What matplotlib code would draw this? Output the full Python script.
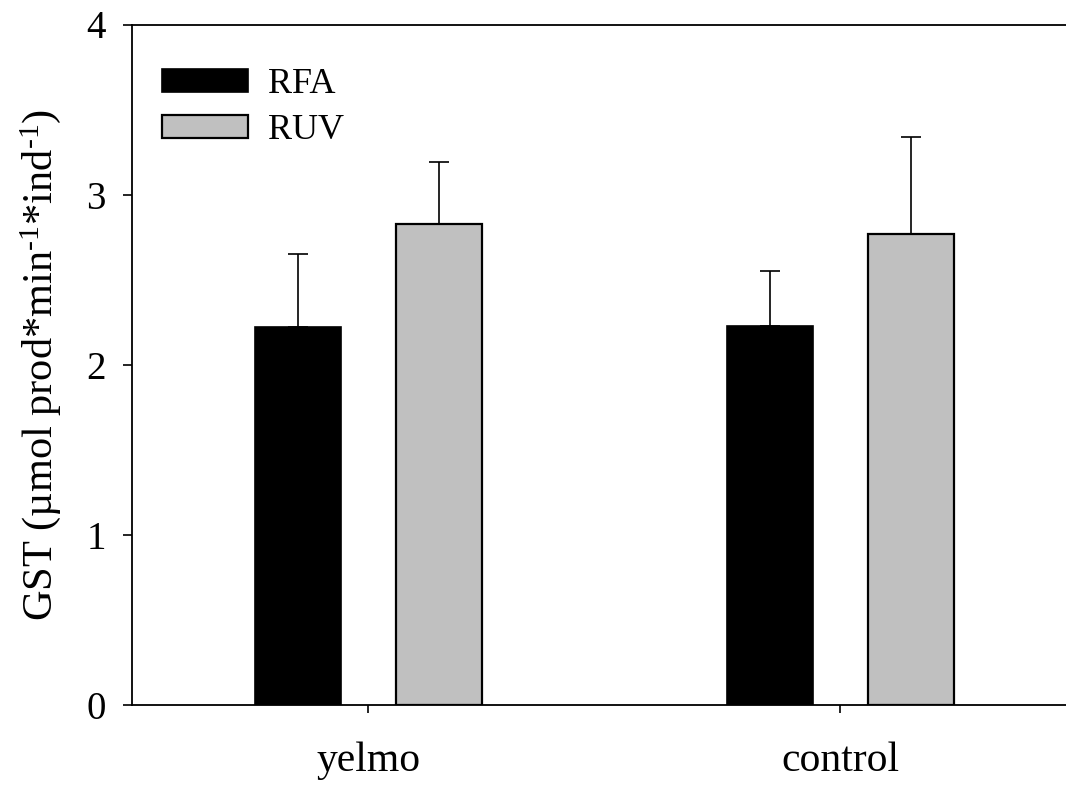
import matplotlib
matplotlib.use("Agg")
import matplotlib.pyplot as plt
import numpy as np

# Data
sites = ["yelmo", "control"]
treatments = ["RFA", "RUV"]
rfa_mean = [2.22, 2.23]
rfa_err = [0.43, 0.32]
ruv_mean = [2.83, 2.77]
ruv_err = [0.36, 0.57]
yticks = [0, 1, 2, 3, 4]

plt.rcParams["font.family"] = ["Liberation Serif", "DejaVu Serif"]
plt.rcParams["mathtext.fontset"] = "custom"
plt.rcParams["mathtext.rm"] = "Liberation Serif"
plt.rcParams["mathtext.it"] = "Liberation Serif:italic"

fig = plt.figure(figsize=(10.66, 7.85), dpi=100)
ax = fig.add_axes([131.5 / 1066, 80 / 785, 1 - 131.5 / 1066, (705 - 24.5) / 785])

x = np.arange(len(sites))
width = 0.182
offset = 0.150
err_kw = dict(ecolor="black", elinewidth=1.2, capsize=7, capthick=1.2)

ax.bar(x - offset, rfa_mean, width, color="black", edgecolor="black",
       linewidth=1.2, label=treatments[0],
       yerr=[np.zeros(len(x)), rfa_err], error_kw=err_kw, zorder=3)
ax.bar(x + offset, ruv_mean, width, color="#c0c0c0", edgecolor="black",
       linewidth=1.6, label=treatments[1],
       yerr=[np.zeros(len(x)), ruv_err], error_kw=err_kw, zorder=3)

ax.set_xlim(-0.502, 1.478)
ax.set_ylim(0, 4)
ax.set_yticks(yticks)
ax.set_xticks(x)
ax.set_xticklabels(sites)

for side in ["left", "top", "bottom"]:
    ax.spines[side].set_linewidth(1.3)
ax.spines["right"].set_visible(False)

ax.tick_params(axis="y", direction="out", length=6.5, width=1.2,
               labelsize=28, pad=12)
ax.tick_params(axis="x", direction="out", length=6, width=1.2,
               labelsize=30, pad=20)

ax.set_ylabel(r"GST (µmol prod*min$^{\text{-1}}$*ind$^{\text{-1}}$)",
              fontsize=30.5, labelpad=17)

leg = ax.legend(loc="upper left", bbox_to_anchor=(30.5 / 934.5, 0.936),
                frameon=False, fontsize=26, handlelength=2.38,
                handleheight=0.58, handletextpad=0.55, labelspacing=0.36,
                borderaxespad=0, borderpad=0)

fig.savefig("out.png", dpi=100)
